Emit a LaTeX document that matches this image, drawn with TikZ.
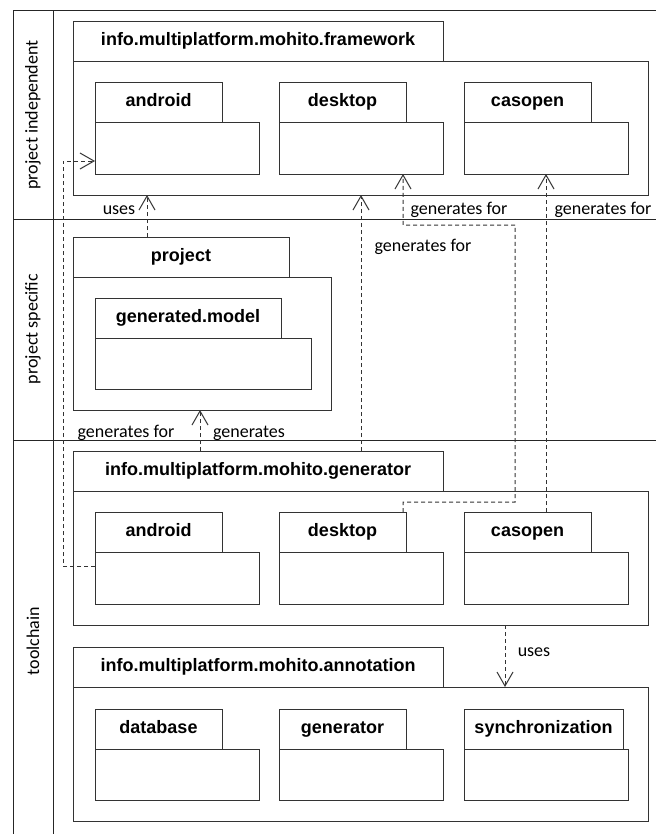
\documentclass[tikz,border=0pt]{standalone}
\usepackage{fontspec}
\setmainfont{Carlito}
\newfontfamily\headfont{Liberation Sans}
\usetikzlibrary{arrows.meta}
\begin{document}
\begin{tikzpicture}[x=1bp,y=-1bp,
  lane/.style={line width=1bp,black!85},
  box/.style={draw=black!80,line width=1bp,inner sep=0pt,outer sep=0pt,anchor=north west},
  tabbox/.style={box,text height=13bp,text depth=4bp,font=\headfont\bfseries\fontsize{18bp}{21bp}\selectfont},
  lanelabel/.style={rotate=90,font=\fontsize{18bp}{21bp}\selectfont,inner sep=0pt},
  lbl/.style={font=\fontsize{18bp}{21bp}\selectfont,inner sep=0pt},
  dep/.style={draw=black!80,line width=1bp,dash pattern=on 4bp off 3bp,
    -{Straight Barb[length=14bp,width=16bp,line width=1bp]}}]
\useasboundingbox (0,0) rectangle (656,834);
\fill[white] (0,0) rectangle (656,834);
% lanes
\draw[lane] (656,10) -- (13,10) -- (13,834);
\draw[lane] (53,10) -- (53,834);
\draw[lane] (13,219) -- (656,219);
\draw[lane] (13,440) -- (656,440);
\node[lanelabel] (l1) at (33,115) {project independent};
\node[lanelabel] (l2) at (33,329) {project specific};
\node[lanelabel] (l3) at (33,641) {toolchain};
% framework
\node[tabbox,minimum width=370bp,minimum height=40bp] (fwt) at (73,21) {info.multiplatform.mohito.framework};
\node[box,minimum width=575bp,minimum height=134bp] (fwb) at (73,61) {};
\node[tabbox,minimum width=127bp,minimum height=40bp] (fwat) at (95,82) {android};
\node[box,minimum width=164bp,minimum height=52bp] (fwab) at (95,122) {};
\node[tabbox,minimum width=127bp,minimum height=40bp] (fwdt) at (279,82) {desktop};
\node[box,minimum width=164bp,minimum height=52bp] (fwdb) at (279,122) {};
\node[tabbox,minimum width=127bp,minimum height=40bp] (fwct) at (464,82) {casopen};
\node[box,minimum width=164bp,minimum height=52bp] (fwcb) at (464,122) {};
% project
\node[tabbox,minimum width=216bp,minimum height=40bp] (prt) at (73,237) {project};
\node[box,minimum width=258bp,minimum height=133bp] (prb) at (73,277) {};
\node[tabbox,minimum width=186bp,minimum height=40bp] (pmt) at (95,298) {generated.model};
\node[box,minimum width=216bp,minimum height=51bp] (pmb) at (95,338) {};
% generator
\node[tabbox,minimum width=370bp,minimum height=40bp] (gnt) at (73,451) {info.multiplatform.mohito.generator};
\node[box,minimum width=575bp,minimum height=134bp] (gnb) at (73,491) {};
\node[tabbox,minimum width=127bp,minimum height=40bp] (gnat) at (95,512) {android};
\node[box,minimum width=164bp,minimum height=52bp] (gnab) at (95,552) {};
\node[tabbox,minimum width=127bp,minimum height=40bp] (gndt) at (279,512) {desktop};
\node[box,minimum width=164bp,minimum height=52bp] (gndb) at (279,552) {};
\node[tabbox,minimum width=127bp,minimum height=40bp] (gnct) at (464,512) {casopen};
\node[box,minimum width=164bp,minimum height=52bp] (gncb) at (464,552) {};
% annotation
\node[tabbox,minimum width=370bp,minimum height=40bp] (ant) at (73,647) {info.multiplatform.mohito.annotation};
\node[box,minimum width=575bp,minimum height=134bp] (anb) at (73,687) {};
\node[tabbox,minimum width=127bp,minimum height=40bp] (andt) at (95,709) {database};
\node[box,minimum width=164bp,minimum height=51bp] (andb) at (95,749) {};
\node[tabbox,minimum width=127bp,minimum height=40bp] (angt) at (279,709) {generator};
\node[box,minimum width=164bp,minimum height=51bp] (angb) at (279,749) {};
\node[tabbox,minimum width=159bp,minimum height=40bp] (anst) at (464,709) {synchronization};
\node[box,minimum width=164bp,minimum height=51bp] (ansb) at (464,749) {};
% connectors
\draw[dep] ([xshift=74bp]prt.north west) -- ([xshift=74bp]fwb.south west);
\node[lbl] (u1) at (119,210) {uses};
\draw[dep] ([xshift=127bp]gnt.north west) -- ([xshift=127bp]prb.south west);
\node[lbl] (g1) at (249,433) {generates};
\draw[dep] ([xshift=288bp]gnt.north west) -- ([xshift=288bp]fwb.south west);
\node[lbl] (g2) at (423,247) {generates for};
\coordinate (d1) at (403,502);
\coordinate (d2) at (515,502);
\coordinate (d3) at (515,225);
\coordinate (d4) at (403,225);
\draw[dep] ([xshift=124bp]gndt.north west) -- (d1) -- (d2) -- (d3) -- (d4) -- ([xshift=124bp]fwdb.south west);
\node[lbl] (g3) at (459,210) {generates for};
\draw[dep] ([xshift=82bp]gnct.north west) -- ([xshift=82bp]fwcb.south west);
\node[lbl] (g4) at (603,210) {generates for};
\coordinate (a1) at (63,566);
\coordinate (a2) at (63,161);
\draw[dep] (gnab.west |- a1) -- (a1) -- (a2) -- (fwab.west |- a2);
\node[lbl] (g5) at (126,433) {generates for};
\draw[dep] ([xshift=432bp]gnb.south west) -- ([xshift=432bp]anb.north west);
\node[lbl] (u2) at (534,652) {uses};
\end{tikzpicture}
\end{document}
